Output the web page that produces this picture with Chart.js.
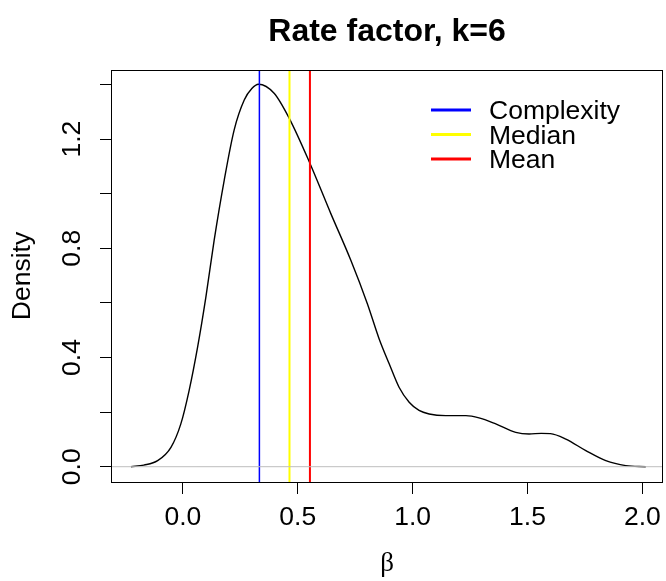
<!DOCTYPE html>
<html>
<head>
<meta charset="utf-8">
<script src="https://cdn.jsdelivr.net/npm/chart.js@4"></script>
<style>
  html, body { margin: 0; padding: 0; background: #fff; }
  #wrap { width: 666px; height: 581px; }
</style>
</head>
<body>
<div id="wrap"><canvas id="densityChart" width="666" height="581"></canvas></div>
<script>
// density estimate
var betaX = [-0.226, -0.170, -0.110, -0.052, -0.009, 0.027, 0.064, 0.100, 0.136, 0.180, 0.223, 0.267,
             0.300, 0.329, 0.397, 0.463, 0.550, 0.644, 0.731, 0.803, 0.854, 0.898, 0.941, 0.985,
             1.028, 1.072, 1.144, 1.232, 1.289, 1.362, 1.449, 1.507, 1.560, 1.600, 1.667, 1.754,
             1.841, 1.928, 2.015];
var densityY = [0, 0.006, 0.022, 0.071, 0.157, 0.279, 0.438, 0.621, 0.829, 1.050, 1.233, 1.343,
                1.385, 1.401, 1.368, 1.276, 1.117, 0.927, 0.756, 0.597, 0.469, 0.377, 0.291, 0.236,
                0.206, 0.193, 0.187, 0.187, 0.179, 0.157, 0.126, 0.120, 0.122, 0.121, 0.101, 0.059,
                0.022, 0.004, 0];

var markerNames = ["Complexity", "Median", "Mean"];
var markerValues = [0.333, 0.464, 0.553];
var markerColors = ["#0000ff", "#ffff00", "#ff0000"];

var xTicks = [0, 0.5, 1.0, 1.5, 2.0];
var xTickLabels = ["0.0", "0.5", "1.0", "1.5", "2.0"];
var yTicks = [0, 0.2, 0.4, 0.6, 0.8, 1.0, 1.2, 1.4];
var yTickLabels = ["0.0", "", "0.4", "", "0.8", "", "1.2", ""];

var xMin = -0.313, xMax = 2.09;
var yMin = -0.056, yMax = 1.453;

var FONT = "Liberation Sans, Arial, sans-serif";

function pairs(xs, ys) {
    return xs.map(function (x, i) { return { x: x, y: ys[i] }; });
}

var datasets = [{
    label: "zero",
    data: [{ x: xMin, y: 0 }, { x: xMax, y: 0 }],
    borderColor: "#bebebe",
    borderWidth: 1,
    pointRadius: 0,
    showLine: true
}];

markerValues.forEach(function (v, i) {
    datasets.push({
        label: markerNames[i],
        data: [{ x: v, y: yMin }, { x: v, y: yMax }],
        borderColor: markerColors[i],
        borderWidth: i === 0 ? 1.5 : 2,
        pointRadius: 0,
        showLine: true
    });
});

datasets.push({
    label: "density",
    data: pairs(betaX, densityY),
    borderColor: "#000",
    borderWidth: 1.4,
    pointRadius: 0,
    showLine: true,
    cubicInterpolationMode: "monotone"
});

// R-style decorations: box, tick labels, titles, legend
var rDecor = {
    id: "rDecor",
    afterDraw: function (chart) {
        var ctx = chart.ctx;
        var a = chart.chartArea;
        var xs = chart.scales.x, ys = chart.scales.y;
        ctx.save();
        ctx.strokeStyle = "#000";
        ctx.lineWidth = 1;
        ctx.strokeRect(Math.round(a.left) + 0.5, Math.round(a.top) + 0.5,
            Math.round(a.right - a.left) - 1, Math.round(a.bottom - a.top));

        ctx.fillStyle = "#000";
        ctx.font = "26.5px " + FONT;
        ctx.textAlign = "center";
        ctx.textBaseline = "middle";
        xTicks.forEach(function (t, i) {
            ctx.fillText(xTickLabels[i], xs.getPixelForValue(t), 518);
        });
        yTicks.forEach(function (t, i) {
            if (!yTickLabels[i]) return;
            ctx.save();
            ctx.translate(73, ys.getPixelForValue(t));
            ctx.rotate(-Math.PI / 2);
            ctx.fillText(yTickLabels[i], 0, 0);
            ctx.restore();
        });

        ctx.save();
        ctx.translate(22.5, (a.top + a.bottom) / 2);
        ctx.rotate(-Math.PI / 2);
        ctx.fillText("Density", 0, 0);
        ctx.restore();

        ctx.font = "27px Liberation Serif, serif";
        ctx.fillText("β", (a.left + a.right) / 2, 564);

        ctx.font = "bold 32px " + FONT;
        ctx.fillText("Rate factor, k=6", (a.left + a.right) / 2, 32);

        // legend
        ctx.font = "26.5px " + FONT;
        ctx.textAlign = "left";
        var ly = [110, 134.5, 159];
        markerNames.forEach(function (n, i) {
            ctx.strokeStyle = markerColors[i];
            ctx.lineWidth = 3;
            ctx.beginPath();
            ctx.moveTo(431, ly[i]);
            ctx.lineTo(471, ly[i]);
            ctx.stroke();
            ctx.fillText(n, 489, ly[i] + 2);
        });
        ctx.restore();
    }
};

new Chart(document.getElementById("densityChart").getContext("2d"), {
    type: "scatter",
    data: { datasets: datasets },
    options: {
        responsive: false,
        animation: false,
        layout: { padding: { left: 0, right: 3, top: 70, bottom: 0 } },
        plugins: { legend: { display: false }, tooltip: { enabled: false } },
        scales: {
            x: {
                type: "linear",
                min: xMin,
                max: xMax,
                afterBuildTicks: function (s) { s.ticks = xTicks.map(function (v) { return { value: v }; }); },
                afterFit: function (s) { s.height = 99; },
                ticks: { display: false },
                border: { display: false },
                grid: { drawOnChartArea: false, drawTicks: true, tickLength: 12, color: "#000", lineWidth: 1 }
            },
            y: {
                type: "linear",
                min: yMin,
                max: yMax,
                afterBuildTicks: function (s) { s.ticks = yTicks.map(function (v) { return { value: v }; }); },
                afterFit: function (s) { s.width = 111; },
                ticks: { display: false },
                border: { display: false },
                grid: { drawOnChartArea: false, drawTicks: true, tickLength: 11, color: "#000", lineWidth: 1 }
            }
        }
    },
    plugins: [rDecor]
});
</script>
</body>
</html>
